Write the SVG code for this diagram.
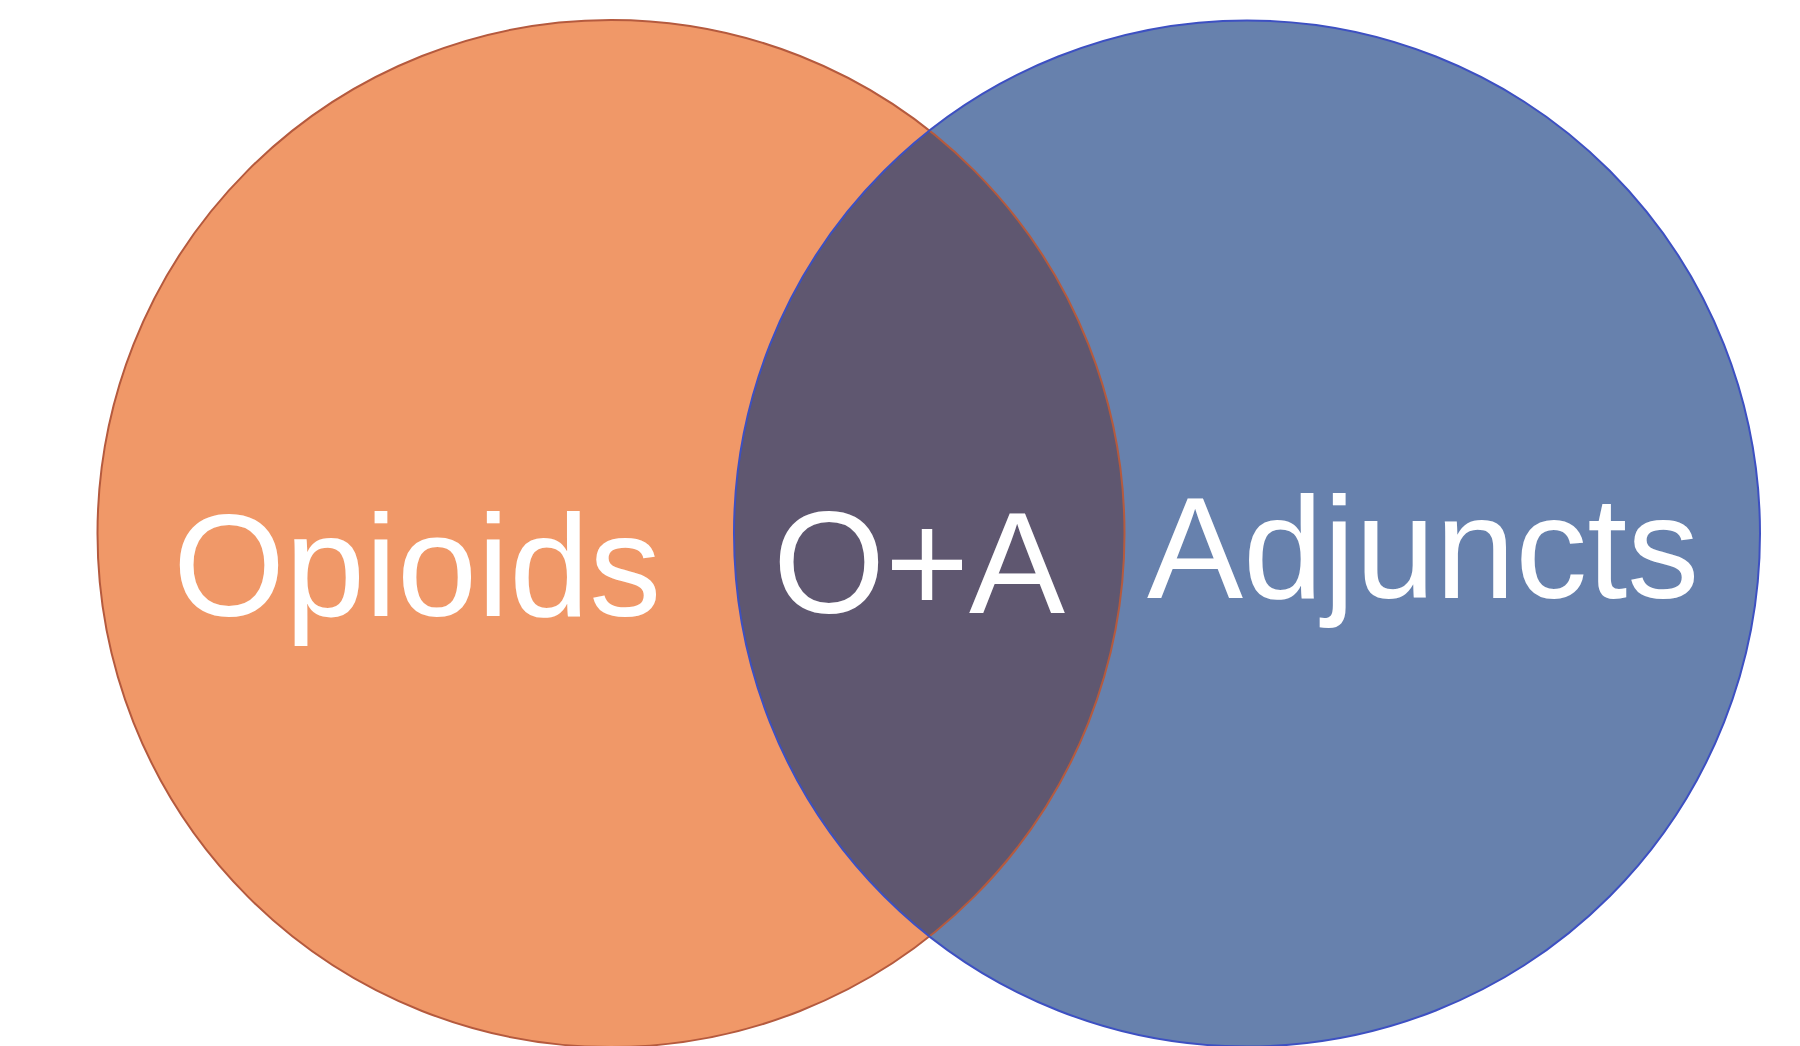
<svg xmlns="http://www.w3.org/2000/svg" width="1800" height="1046" viewBox="0 0 1800 1046">
<style>
.lbl{font-family:"Liberation Sans",Arial,sans-serif;font-size:144px;fill:#ffffff}
</style>
<defs>
<clipPath id="clipL"><circle cx="611" cy="533.5" r="513.5"/></clipPath>
</defs>
<rect width="1800" height="1046" fill="#ffffff"/>
<g id="opioids">
<circle cx="611" cy="533.5" r="513.5" fill="#F09868"/>
</g>
<g id="adjuncts">
<circle cx="1247" cy="533.5" r="513" fill="#6781AD"/>
</g>
<g id="overlap">
<circle cx="1247" cy="533.5" r="513" fill="#5F5770" clip-path="url(#clipL)"/>
</g>
<g id="borders" fill="none" stroke-width="2">
<circle cx="611" cy="533.5" r="513.5" stroke="#B55A3E"/>
<circle cx="1247" cy="533.5" r="513" stroke="#3D50C2"/>
</g>
<text class="lbl" x="173" y="616">Opioids</text>
<text class="lbl" x="773" y="613">O+A</text>
<text class="lbl" x="1147" y="598">Adjuncts</text>
</svg>
